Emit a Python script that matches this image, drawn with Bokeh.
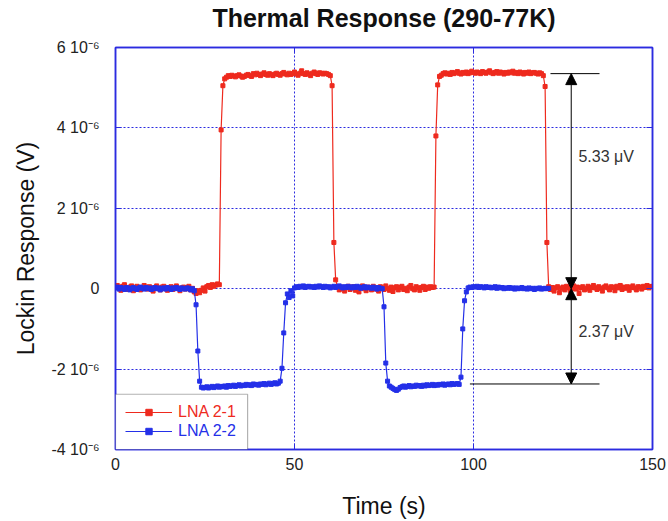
import numpy as np
from bokeh.plotting import figure
from bokeh.models import (Range1d, FixedTicker, LinearAxis, CustomJSTickFormatter,
                          Legend, LegendItem, BoxAnnotation, Arrow, NormalHead)
from bokeh.core.properties import value
from bokeh.embed import file_html
from bokeh.resources import INLINE

# ---------------- data ----------------
dt = 0.5  # sampling interval, s

# LNA 2-1 lockin response, in microvolts, one value every 0.5 s from t = 0
red_uV = [
    0.05, 0.08, 0.02, -0.04, 0.06, 0.10, 0.03, -0.02, 0.04, 0.07,
    -0.05, 0.01, 0.06, 0.03, -0.03, 0.02, 0.08, 0.04, -0.01, 0.05,
    0.02, -0.06, 0.03, 0.07, 0.01, -0.03, 0.04, 0.06, 0.00, -0.04,
    0.02, 0.05, -0.02, 0.03, 0.07, 0.01, -0.05, 0.02, 0.04, -0.01,
    0.03, 0.06, -0.03, 0.01, -0.08, -0.12, -0.05, -0.10, -0.04, 0.02,
    -0.06, 0.05, 0.08, 0.03, 0.10, 0.06, 0.09, 0.12, 0.10, 3.95,
    5.05, 5.22, 5.26, 5.30, 5.28, 5.31, 5.29, 5.27, 5.30, 5.32,
    5.29, 5.26, 5.28, 5.31, 5.33, 5.30, 5.28, 5.35, 5.32, 5.36,
    5.33, 5.30, 5.34, 5.37, 5.33, 5.31, 5.35, 5.32, 5.30, 5.34,
    5.36, 5.33, 5.31, 5.35, 5.38, 5.34, 5.32, 5.36, 5.33, 5.35,
    5.39, 5.34, 5.31, 5.36, 5.42, 5.35, 5.33, 5.37, 5.34, 5.30,
    5.36, 5.39, 5.35, 5.33, 5.37, 5.36, 5.34, 5.36, 5.35, 5.33,
    5.30, 5.05, 1.15, 0.22, 0.05, -0.03, 0.04, 0.01, -0.06, 0.03,
    0.06, -0.02, 0.02, 0.05, -0.04, 0.01, -0.08, 0.03, 0.07, 0.00,
    -0.05, 0.04, 0.02, -0.03, 0.06, -0.01, 0.03, -0.06, 0.05, 0.02,
    -0.02, 0.07, 0.01, -0.04, 0.04, -0.07, 0.02, 0.05, -0.03, 0.03,
    0.06, -0.02, 0.01, -0.05, 0.04, 0.08, 0.00, -0.03, 0.05, 0.02,
    -0.04, 0.03, 0.06, -0.02, 0.04, 0.01, 0.05, 0.03, 0.04, 3.80,
    5.07, 5.28, 5.31, 5.35, 5.37, 5.34, 5.36, 5.33, 5.38, 5.35,
    5.37, 5.40, 5.36, 5.34, 5.38, 5.36, 5.39, 5.35, 5.37, 5.41,
    5.38, 5.36, 5.39, 5.37, 5.35, 5.40, 5.38, 5.36, 5.39, 5.42,
    5.37, 5.35, 5.38, 5.40, 5.36, 5.39, 5.37, 5.34, 5.38, 5.36,
    5.39, 5.37, 5.41, 5.36, 5.38, 5.35, 5.39, 5.37, 5.34, 5.38,
    5.36, 5.39, 5.35, 5.37, 5.38, 5.36, 5.34, 5.37, 5.35, 5.30,
    5.03, 1.15, 0.05, -0.02, 0.03, -0.06, 0.02, 0.05, -0.10, 0.01,
    0.04, -0.03, 0.06, 0.02, -0.05, 0.03, 0.07, -0.01, 0.04, -0.12,
    0.02, 0.05, -0.03, 0.01, 0.06, -0.04, 0.03, 0.08, 0.02, -0.02,
    0.05, 0.01, -0.06, 0.04, 0.07, 0.02, -0.03, 0.05, 0.03, -0.05,
    0.06, 0.02, 0.08, -0.02, 0.04, 0.01, 0.05, -0.04, 0.03, 0.07,
    0.02, -0.03, 0.05, 0.04, -0.01, 0.06, 0.03, 0.08, 0.02, 0.05,
    0.06,
]

# LNA 2-2 lockin response, in microvolts, one value every 0.5 s from t = 0
blue_uV = [
    0.02, 0.04, -0.01, 0.03, 0.01, -0.02, 0.03, 0.02, -0.03, 0.01,
    0.03, 0.00, -0.02, 0.02, 0.04, 0.01, -0.01, 0.03, 0.00, 0.02,
    -0.02, 0.01, 0.03, 0.00, 0.02, -0.03, 0.01, 0.02, -0.01, 0.03,
    0.01, -0.02, 0.02, 0.00, 0.03, 0.01, -0.02, 0.02, 0.00, -0.01,
    0.02, 0.01, -0.03, 0.00, -0.05, -0.40, -1.55, -2.30, -2.45, -2.47,
    -2.46, -2.44, -2.47, -2.45, -2.43, -2.46, -2.44, -2.42, -2.45, -2.43,
    -2.44, -2.42, -2.45, -2.41, -2.43, -2.42, -2.40, -2.43, -2.41, -2.39,
    -2.42, -2.40, -2.41, -2.38, -2.40, -2.39, -2.41, -2.37, -2.39, -2.38,
    -2.40, -2.37, -2.38, -2.36, -2.39, -2.37, -2.35, -2.38, -2.36, -2.34,
    -2.37, -2.35, -2.30, -1.98, -1.10, -0.35, -0.13, -0.22, -0.05, -0.18,
    0.02, 0.05, 0.03, 0.06, 0.04, 0.07, 0.03, 0.05, 0.06, 0.04,
    0.05, 0.03, 0.06, 0.04, 0.07, 0.05, 0.03, 0.06, 0.04, 0.05,
    0.02, 0.04, 0.06, 0.03, 0.05, 0.07, 0.04, 0.02, 0.05, 0.03,
    0.06, 0.04, 0.02, 0.05, 0.03, 0.06, 0.04, 0.01, 0.03, 0.05,
    0.02, 0.04, 0.03, 0.01, 0.04, 0.02, -0.01, 0.03, 0.01, 0.00,
    -0.45, -1.85, -2.30, -2.42, -2.45, -2.48, -2.51, -2.53, -2.50, -2.46,
    -2.44, -2.42, -2.45, -2.43, -2.41, -2.44, -2.42, -2.43, -2.40, -2.42,
    -2.41, -2.43, -2.40, -2.42, -2.39, -2.41, -2.40, -2.38, -2.41, -2.39,
    -2.40, -2.38, -2.39, -2.37, -2.40, -2.38, -2.37, -2.39, -2.36, -2.38,
    -2.37, -2.36, -2.38, -2.20, -1.00, -0.30, -0.08, 0.02, 0.04, 0.03,
    0.05, 0.04, 0.06, 0.03, 0.05, 0.04, 0.02, 0.05, 0.03, 0.04,
    0.02, 0.03, 0.05, 0.01, 0.04, 0.02, 0.03, 0.00, 0.02, 0.01,
    0.03, 0.01, 0.02, -0.01, 0.02, 0.00, 0.01, 0.03, 0.00, 0.01,
    -0.01, 0.02, 0.00, 0.01, -0.02, 0.01, 0.00, 0.02, -0.01, 0.00,
    0.01, 0.00, 0.01,
]

series_names = ["LNA 2-1", "LNA 2-2"]
x_ticks = [0, 50, 100, 150]
y_ticks_uV = [-4, -2, 0, 2, 4, 6]
title_text = "Thermal Response (290-77K)"

# step-size annotation (values in V, times in s)
step_labels = ["5.33 \u03bcV", "2.37 \u03bcV"]
arrow_t = 127.3
level_high = 5.35e-6
level_base = 0.0
level_low = -2.37e-6
high_line_t = [121.5, 135.2]
low_line_t = [99.0, 135.2]
label_t = 129.3
label_y = [3.28e-6, -1.07e-6]

# ---------------- figure ----------------
RED = "#ee2a1e"
BLUE = "#2430e8"
FRAME = "#2b2be0"
FONT = "Liberation Sans"

t_red = np.arange(len(red_uV)) * dt
t_blue = np.arange(len(blue_uV)) * dt
red_v = np.array(red_uV) * 1e-6
blue_v = np.array(blue_uV) * 1e-6
y_ticks = [v * 1e-6 for v in y_ticks_uV]

p = figure(width=668, height=521, output_backend="svg", toolbar_location=None,
           x_range=Range1d(0, 150), y_range=Range1d(-4e-6, 6e-6),
           min_border_left=115, min_border_right=16,
           min_border_top=47, min_border_bottom=72)
p.background_fill_color = "white"
p.border_fill_color = "white"
p.outline_line_color = FRAME
p.outline_line_width = 1.5

p.title.text = title_text
p.title.align = "center"
p.title.text_font = FONT
p.title.text_font_size = "25px"
p.title.text_font_style = "bold"
p.title.text_color = "#111111"
p.title.standoff = 0

yfmt = CustomJSTickFormatter(code="""
const m = Math.round(tick * 1e6);
if (m === 0) { return "0"; }
return m + " 10\u207b\u2076";
""")

xa = p.xaxis[0]
ya = p.yaxis[0]
xa.ticker = FixedTicker(ticks=x_ticks)
ya.ticker = FixedTicker(ticks=y_ticks)
ya.formatter = yfmt
xa.axis_label = "Time (s)"
ya.axis_label = "Lockin Response (V)"
for ax in (xa, ya):
    ax.axis_line_color = FRAME
    ax.axis_line_width = 1.5
    ax.major_tick_line_color = FRAME
    ax.major_tick_in = 6
    ax.major_tick_out = 0
    ax.minor_tick_line_color = None
    ax.major_label_text_font = FONT
    ax.major_label_text_font_size = "16px"
    ax.major_label_text_color = "#222222"
    ax.axis_label_text_font = FONT
    ax.axis_label_text_font_size = "23px"
    ax.axis_label_text_font_style = "normal"
    ax.axis_label_text_color = "#111111"
xa.major_label_standoff = 8
xa.axis_label_standoff = 20
ya.major_label_standoff = 16
ya.axis_label_standoff = 9

blank = CustomJSTickFormatter(code="return '';")
top_ax = LinearAxis(ticker=FixedTicker(ticks=x_ticks), formatter=blank)
right_ax = LinearAxis(ticker=FixedTicker(ticks=y_ticks), formatter=blank)
for ax in (top_ax, right_ax):
    ax.axis_line_color = FRAME
    ax.axis_line_width = 1.5
    ax.major_tick_line_color = FRAME
    ax.major_tick_in = 6
    ax.major_tick_out = 0
    ax.minor_tick_line_color = None
    ax.major_label_standoff = 0
p.add_layout(top_ax, "above")
p.add_layout(right_ax, "right")

# invisible spacer axis between the top frame ticks and the title
spacer = LinearAxis(ticker=FixedTicker(ticks=x_ticks), formatter=blank,
                    axis_line_color=None, major_tick_line_color=None,
                    minor_tick_line_color=None, major_tick_in=0,
                    major_tick_out=16, major_label_standoff=0)
p.add_layout(spacer, "above")

for g in (p.xgrid[0], p.ygrid[0]):
    g.grid_line_color = FRAME
    g.grid_line_dash = "2 2"
    g.grid_line_width = 1
    g.grid_line_alpha = 1.0
p.xgrid[0].ticker = FixedTicker(ticks=x_ticks)
p.ygrid[0].ticker = FixedTicker(ticks=y_ticks)

# series
r_line = p.line(t_red, red_v, line_color=RED, line_width=1.2)
r_pts = p.scatter(t_red, red_v, marker="square", size=4, fill_color=RED, line_color=RED)
b_line = p.line(t_blue, blue_v, line_color=BLUE, line_width=1.2)
b_pts = p.scatter(t_blue, blue_v, marker="square", size=4, fill_color=BLUE, line_color=BLUE)

# step annotations
p.line(high_line_t, [level_high, level_high], line_color="black", line_width=1)
p.line(low_line_t, [level_low, level_low], line_color="black", line_width=1)
for y0, y1 in ((level_base, level_high), (level_base, level_low)):
    p.add_layout(Arrow(x_start=arrow_t, y_start=y0, x_end=arrow_t, y_end=y1,
                       line_color="black", line_width=1,
                       start=NormalHead(size=11, fill_color="black", line_color="black"),
                       end=NormalHead(size=11, fill_color="black", line_color="black")))
p.text(x=[label_t, label_t], y=label_y, text=step_labels,
       text_font=value(FONT), text_font_size="16px", text_color="#333333",
       text_baseline="middle", text_align="left")

# legend box + two single-entry legends (so each label keeps its series colour)
box = BoxAnnotation(left=0, right=36.9, bottom=-4e-6, top=-2.625e-6,
                    fill_color="white", fill_alpha=1.0,
                    line_color="black", line_width=1.2)
p.add_layout(box)
for name, rends, color, loc in ((series_names[0], [r_line, r_pts], RED, (10, 28)),
                                (series_names[1], [b_line, b_pts], BLUE, (10, 9))):
    lg = Legend(items=[LegendItem(label=name, renderers=rends)], location=loc,
                padding=0, margin=0, border_line_alpha=0, background_fill_alpha=0,
                glyph_width=47, glyph_height=16, label_height=16, label_standoff=6,
                label_text_font=FONT, label_text_font_size="16px",
                label_text_color=color)
    p.add_layout(lg)

with open("out.html", "w", encoding="utf-8") as f:
    f.write(file_html(p, INLINE))
